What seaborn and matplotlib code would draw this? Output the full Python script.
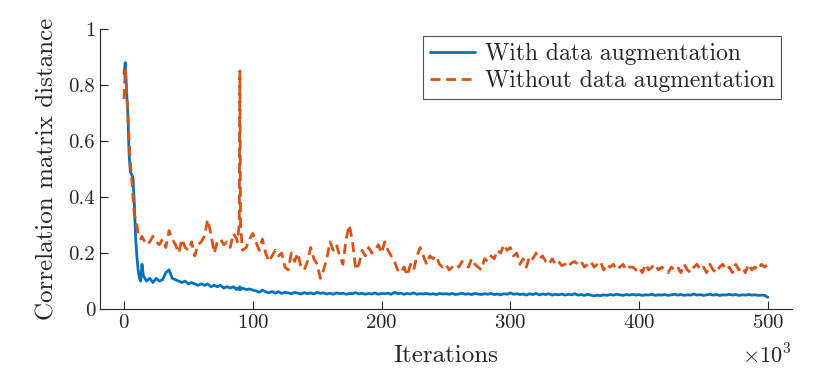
import numpy as np
import pandas as pd
import seaborn as sns
import matplotlib.pyplot as plt

# Iterations (x10^3) and distance values
iterations = [0, 1, 2, 3, 4, 5, 6, 7, 8, 9, 10, 11, 12, 13, 14,
              15, 17.5, 20, 22.5, 25, 27.5, 30, 32.5, 35, 37.5,
              40, 42.5, 45, 47.5, 50, 52.5, 55, 57.5, 60, 62.5,
              65, 67.5, 70, 72.5, 75, 77.5, 80, 82.5, 85, 87.5,
              88, 89.5, 90, 90.5, 92,
              95, 97.5, 100, 102.5, 105, 107.5, 110, 112.5, 115, 117.5,
              120, 122.5, 125, 127.5, 130, 132.5, 135, 137.5, 140, 142.5,
              145, 147.5, 150, 152.5, 155, 157.5, 160, 162.5, 165, 167.5,
              170, 172.5, 175, 177.5, 180, 182.5, 185, 187.5, 190, 192.5,
              195, 197.5, 200, 202.5, 205, 207.5, 210, 212.5, 215, 217.5,
              220, 222.5, 225, 227.5, 230, 232.5, 235, 237.5, 240, 242.5,
              245, 247.5, 250, 252.5, 255, 257.5, 260, 262.5, 265, 267.5,
              270, 272.5, 275, 277.5, 280, 282.5, 285, 287.5, 290, 292.5,
              295, 297.5, 300, 302.5, 305, 307.5, 310, 312.5, 315, 317.5,
              320, 322.5, 325, 327.5, 330, 332.5, 335, 337.5, 340, 342.5,
              345, 347.5, 350, 352.5, 355, 357.5, 360, 362.5, 365, 367.5,
              370, 372.5, 375, 377.5, 380, 382.5, 385, 387.5, 390, 392.5,
              395, 397.5, 400, 402.5, 405, 407.5, 410, 412.5, 415, 417.5,
              420, 422.5, 425, 427.5, 430, 432.5, 435, 437.5, 440, 442.5,
              445, 447.5, 450, 452.5, 455, 457.5, 460, 462.5, 465, 467.5,
              470, 472.5, 475, 477.5, 480, 482.5, 485, 487.5, 490, 492.5,
              495, 497.5, 500]

with_aug = [0.84, 0.88, 0.78, 0.70, 0.55, 0.49, 0.48, 0.47, 0.38, 0.26, 0.19, 0.14, 0.11, 0.10, 0.16,
            0.12, 0.10, 0.11, 0.095, 0.11, 0.10, 0.105, 0.13, 0.14, 0.11,
            0.105, 0.10, 0.095, 0.10, 0.09, 0.095, 0.09, 0.085, 0.09, 0.085,
            0.09, 0.08, 0.085, 0.08, 0.085, 0.075, 0.08, 0.075, 0.08, 0.07,
            0.075, 0.07, 0.08, 0.07, 0.075,
            0.07, 0.072, 0.068, 0.065, 0.06, 0.068, 0.062, 0.058, 0.063, 0.057,
            0.062, 0.056, 0.06, 0.058, 0.055, 0.06, 0.057, 0.054, 0.059, 0.055,
            0.058, 0.054, 0.06, 0.056, 0.058, 0.054, 0.057, 0.053, 0.058, 0.055,
            0.057, 0.053, 0.056, 0.055, 0.059, 0.054, 0.057, 0.053, 0.056, 0.054,
            0.058, 0.053, 0.056, 0.055, 0.057, 0.053, 0.06, 0.055, 0.057, 0.053,
            0.056, 0.054, 0.058, 0.053, 0.055, 0.054, 0.056, 0.053, 0.055, 0.052,
            0.056, 0.054, 0.055, 0.053, 0.056, 0.052, 0.054, 0.057, 0.053, 0.055,
            0.052, 0.056, 0.054, 0.052, 0.055, 0.053, 0.056, 0.052, 0.054, 0.051,
            0.055, 0.053, 0.058, 0.053, 0.055, 0.052, 0.054, 0.05, 0.055, 0.052,
            0.056, 0.051, 0.054, 0.052, 0.055, 0.05, 0.053, 0.051, 0.054, 0.05,
            0.053, 0.051, 0.055, 0.05, 0.052, 0.049, 0.053, 0.05, 0.047, 0.05,
            0.048, 0.051, 0.049, 0.052, 0.05, 0.053, 0.051, 0.049, 0.052, 0.05,
            0.053, 0.05, 0.052, 0.049, 0.051, 0.05, 0.053, 0.049, 0.051, 0.05,
            0.052, 0.049, 0.051, 0.053, 0.05, 0.052, 0.049, 0.051, 0.05, 0.054,
            0.05, 0.052, 0.049, 0.051, 0.053, 0.05, 0.052, 0.049, 0.051, 0.05,
            0.053, 0.05, 0.052, 0.049, 0.051, 0.05, 0.052, 0.05, 0.051, 0.049,
            0.05, 0.049, 0.042]

without_aug = [0.75, 0.86, 0.78, 0.70, 0.60, 0.52, 0.47, 0.40, 0.34, 0.32, 0.30, 0.27, 0.26, 0.25, 0.26,
               0.25, 0.23, 0.24, 0.26, 0.24, 0.23, 0.25, 0.22, 0.28, 0.25,
               0.23, 0.20, 0.25, 0.22, 0.21, 0.24, 0.19, 0.23, 0.24, 0.26,
               0.32, 0.27, 0.20, 0.24, 0.25, 0.23, 0.24, 0.22, 0.27, 0.25,
               0.24, 0.30, 0.85, 0.30, 0.21,
               0.22, 0.25, 0.27, 0.24, 0.21, 0.25, 0.20, 0.17, 0.19, 0.21,
               0.19, 0.20, 0.15, 0.14, 0.20, 0.17, 0.20, 0.15, 0.14, 0.17,
               0.22, 0.18, 0.16, 0.11, 0.14, 0.18, 0.24, 0.21, 0.23, 0.19,
               0.16, 0.25, 0.30, 0.24, 0.14, 0.16, 0.21, 0.19, 0.22, 0.20,
               0.21, 0.23, 0.20, 0.24, 0.21, 0.19, 0.17, 0.14, 0.13, 0.15,
               0.12, 0.16, 0.14, 0.19, 0.22, 0.19, 0.16, 0.19, 0.18, 0.19,
               0.16, 0.15, 0.16, 0.14, 0.15, 0.16, 0.15, 0.17, 0.16, 0.15,
               0.18, 0.16, 0.15, 0.14, 0.18, 0.17, 0.19, 0.18, 0.21, 0.20,
               0.23, 0.21, 0.22, 0.19, 0.20, 0.16, 0.18, 0.15, 0.19, 0.18,
               0.20, 0.18, 0.19, 0.17, 0.16, 0.18, 0.16, 0.17, 0.155, 0.16,
               0.15, 0.165, 0.17, 0.16, 0.17, 0.15, 0.16, 0.17, 0.15, 0.16,
               0.17, 0.14, 0.16, 0.15, 0.16, 0.14, 0.15, 0.16, 0.14, 0.15,
               0.15, 0.14, 0.15, 0.13, 0.16, 0.14, 0.15, 0.16, 0.14, 0.15,
               0.14, 0.13, 0.15, 0.14, 0.15, 0.13, 0.16, 0.14, 0.13, 0.15,
               0.16, 0.14, 0.15, 0.13, 0.16, 0.14, 0.13, 0.15, 0.16, 0.14,
               0.15, 0.13, 0.16, 0.14, 0.15, 0.13, 0.16, 0.14, 0.15, 0.14,
               0.16, 0.15, 0.16]

df = pd.DataFrame({'iter': iterations, 'with': with_aug, 'without': without_aug})

sns.set_style('ticks')
plt.rcParams['font.family'] = ['cmr10', 'DejaVu Serif']
plt.rcParams['mathtext.fontset'] = 'cm'
plt.rcParams['axes.formatter.use_mathtext'] = True

fig = plt.figure(figsize=(8.3, 3.84), dpi=100)
ax = fig.add_axes([0.1205, 0.195, 0.8335, 0.7295])

sns.lineplot(data=df, x='iter', y='with', ax=ax, color='#0072BD', lw=2.0,
             label='With data augmentation')
sns.lineplot(data=df, x='iter', y='without', ax=ax, color='#D95319', lw=2.0,
             linestyle=(0, (3.6, 2.0)), label='Without data augmentation')

ax.set_xlim(-18.6, 518.6)
ax.set_ylim(0, 1)
ax.set_xticks([0, 100, 200, 300, 400, 500])
ax.set_yticks([0, 0.2, 0.4, 0.6, 0.8, 1])
ax.set_yticklabels(['0', '0.2', '0.4', '0.6', '0.8', '1'])
ax.tick_params(direction='in', length=6, width=0.8, labelsize=15, colors='#262626')
ax.set_xlabel('Iterations', fontsize=18, labelpad=9)
ax.set_ylabel('Correlation matrix distance', fontsize=18, labelpad=7)
for s in ['top', 'right']:
    ax.spines[s].set_visible(False)
for s in ['left', 'bottom']:
    ax.spines[s].set_color('#262626')
    ax.spines[s].set_linewidth(0.8)

ax.text(1.0, -0.165, r'$\times10^{3}$', transform=ax.transAxes, fontsize=16,
        ha='right', va='center', color='#262626')

leg = ax.legend(loc='upper right', bbox_to_anchor=(0.985, 0.975), fontsize=17,
                frameon=True, fancybox=False, handlelength=1.9, borderpad=0.3,
                labelspacing=0.2, handletextpad=0.4, borderaxespad=0)
leg.get_frame().set_edgecolor('#262626')
leg.get_frame().set_linewidth(0.8)

fig.savefig('out.png', dpi=100)
